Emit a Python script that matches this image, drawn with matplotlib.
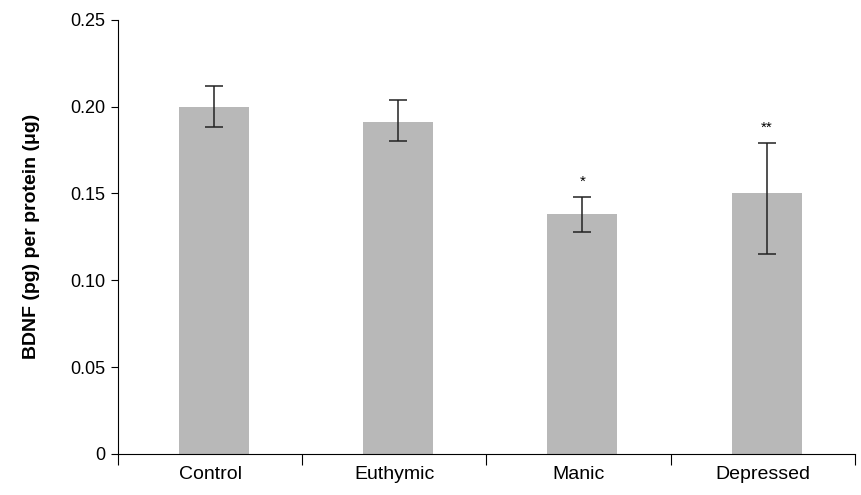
import matplotlib.pyplot as plt
import numpy as np

## Data
groups = ["Control", "Euthymic", "Manic", "Depressed"]
bdnf = [0.200, 0.191, 0.138, 0.150]
err_up = [0.012, 0.013, 0.010, 0.029]
err_down = [0.012, 0.011, 0.010, 0.035]
stars = ["", "", "*", "**"]

plt.rcParams['font.family'] = ['Liberation Sans', 'DejaVu Sans']

fig = plt.figure(figsize=(8.61, 4.95), dpi=100)
ax = fig.add_axes([0.137, 0.083, 0.856, 0.877])

x = np.arange(len(groups))
ax.bar(x + 0.02, bdnf, width=0.38, color="#b8b8b8", zorder=2)
ax.errorbar(x + 0.02, bdnf, yerr=[err_down, err_up], fmt="none",
            ecolor="#222222", elinewidth=1.1, capsize=6.5, capthick=1.1, zorder=3)

## significance stars above the error bars
for i, s in enumerate(stars):
    if s:
        ax.text(x[i] + 0.02, bdnf[i] + err_up[i] + 0.009, s, ha="center",
                va="center", fontsize=11)

ax.set_xlim(-0.5, len(groups) - 0.5)
ax.set_ylim(0, 0.25)
ax.set_yticks([0, 0.05, 0.10, 0.15, 0.20, 0.25])
ax.set_yticklabels(["0", "0.05", "0.10", "0.15", "0.20", "0.25"], fontsize=13)

## x ticks sit between categories, labels centred on each one
ax.set_xticks(np.arange(-0.5, len(groups), 1.0))
ax.set_xticklabels([])
ax.set_xticks(x, minor=True)
ax.set_xticklabels(groups, minor=True, fontsize=14)
ax.tick_params(axis="x", which="minor", length=0, pad=9)
ax.tick_params(axis="x", which="major", length=8, direction="out")
ax.tick_params(axis="y", length=5, direction="out", pad=4)

ax.spines["top"].set_visible(False)
ax.spines["right"].set_visible(False)

ax.set_ylabel("BDNF (pg) per protein (\u03bcg)", fontsize=14, fontweight="bold", labelpad=22)

fig.savefig("out.png", dpi=100)
